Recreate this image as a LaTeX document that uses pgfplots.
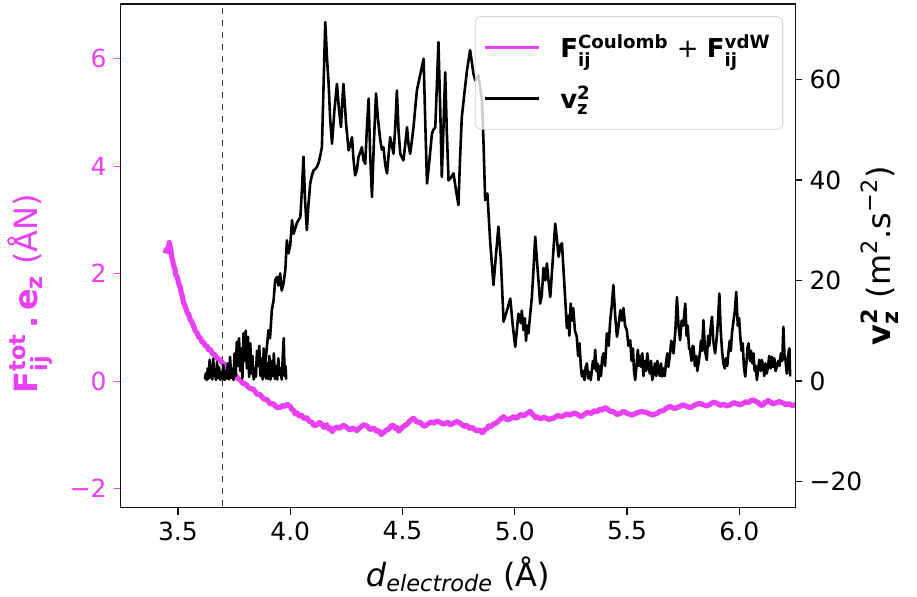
\documentclass[border=0pt]{standalone}
\usepackage{fontspec}
\setmainfont{DejaVu Sans}
\usepackage{amsmath}
\usepackage{pgfplots}
\pgfplotsset{compat=1.18}
\definecolor{cMag}{RGB}{232,64,242}
\definecolor{cInk}{RGB}{20,20,20}
\pgfplotsset{
  twinbase/.style={
    scale only axis, width=337.4pt, height=251.85pt,
    at={(0,0)}, anchor=south west,
    xmin=3.245, xmax=6.25,
    tick align=outside, major tick length=3.5pt,
    font=\fontsize{12.5}{15}\selectfont,
    tick label style={font=\fontsize{12.5}{15}\selectfont},
    axis line style={cInk, line width=0.6pt},
  },
}
\begin{document}
\begin{tikzpicture}
% left axis: force (magenta)
\begin{axis}[
  twinbase,
  axis lines=box,
  ymin=-2.354, ymax=7.02,
  xtick=\empty,
  ytick={-2,0,2,4,6}, yticklabels={−2,0,2,4,6},
  ytick pos=left,
  tick style={cMag, line width=0.6pt},
  y tick label style={cMag},
  ylabel={\textcolor{cMag}{\textbf{F}$^{\textbf{tot}}_{\textbf{ij}}$\,\textbf{.}\,\textbf{e}$_{\textbf{z}}$ (ÅN)}},
  every axis y label/.style={at={(axis description cs:-0.134,0.425)}, rotate=90, anchor=center,
    font=\fontsize{16}{19}\selectfont},
]
\addplot[cInk!85, dashed, line width=0.6pt, forget plot] coordinates {(3.7,-3) (3.7,8)};
\addplot[cMag, line width=2.6pt, line join=round] coordinates {
(3.443,2.38) (3.449,2.46) (3.455,2.41) (3.461,2.58) (3.466,2.50) (3.472,2.33) (3.480,2.16) (3.486,2.10)
(3.490,1.98) (3.497,1.94) (3.503,1.82) (3.509,1.76) (3.515,1.64) (3.520,1.58) (3.525,1.46) (3.532,1.40)
(3.540,1.29) (3.548,1.24) (3.555,1.14) (3.562,1.10) (3.570,1.02) (3.578,0.93) (3.585,0.90) (3.593,0.82)
(3.600,0.80) (3.607,0.73) (3.614,0.72) (3.622,0.66) (3.630,0.65) (3.637,0.58) (3.644,0.59) (3.654,0.51)
(3.665,0.49) (3.676,0.42) (3.688,0.40) (3.699,0.33) (3.710,0.31) (3.721,0.24) (3.733,0.22) (3.744,0.15)
(3.755,0.13) (3.766,0.05) (3.777,0.03) (3.789,-0.04) (3.800,-0.05) (3.818,-0.13) (3.837,-0.15) (3.851,-0.24)
(3.866,-0.25) (3.881,-0.33) (3.896,-0.34) (3.910,-0.42) (3.925,-0.42) (3.940,-0.49) (3.955,-0.49) (3.965,-0.45)
(3.975,-0.47) (3.988,-0.43) (4.000,-0.47) (4.008,-0.53) (4.015,-0.54) (4.022,-0.61) (4.030,-0.59) (4.040,-0.65)
(4.050,-0.63) (4.062,-0.70) (4.074,-0.68) (4.085,-0.75) (4.095,-0.76) (4.107,-0.83) (4.119,-0.81) (4.130,-0.77)
(4.140,-0.80) (4.150,-0.86) (4.163,-0.81) (4.172,-0.89) (4.180,-0.87) (4.187,-0.94) (4.193,-0.90) (4.207,-0.85)
(4.220,-0.88) (4.236,-0.82) (4.252,-0.86) (4.266,-0.91) (4.280,-0.87) (4.296,-0.92) (4.312,-0.86) (4.327,-0.81)
(4.341,-0.83) (4.356,-0.90) (4.371,-0.87) (4.383,-0.93) (4.395,-0.92) (4.405,-0.99) (4.415,-0.96) (4.428,-0.91)
(4.440,-0.89) (4.450,-0.83) (4.460,-0.82) (4.468,-0.88) (4.475,-0.86) (4.483,-0.93) (4.490,-0.90) (4.505,-0.84)
(4.520,-0.80) (4.535,-0.73) (4.549,-0.69) (4.565,-0.76) (4.580,-0.77) (4.595,-0.84) (4.609,-0.81) (4.625,-0.76)
(4.640,-0.78) (4.654,-0.74) (4.668,-0.77) (4.684,-0.80) (4.700,-0.76) (4.713,-0.81) (4.727,-0.78) (4.743,-0.75)
(4.760,-0.79) (4.773,-0.84) (4.787,-0.82) (4.798,-0.88) (4.810,-0.86) (4.828,-0.92) (4.846,-0.91) (4.855,-0.96)
(4.861,-0.94) (4.868,-0.90) (4.876,-0.88) (4.884,-0.83) (4.891,-0.85) (4.905,-0.80) (4.920,-0.77) (4.935,-0.71)
(4.950,-0.66) (4.965,-0.72) (4.980,-0.70) (4.995,-0.66) (5.009,-0.69) (5.025,-0.62) (5.040,-0.64) (5.055,-0.60)
(5.069,-0.56) (5.077,-0.61) (5.085,-0.64) (5.092,-0.68) (5.098,-0.66) (5.115,-0.70) (5.130,-0.67) (5.150,-0.71)
(5.172,-0.69) (5.190,-0.64) (5.210,-0.66) (5.230,-0.61) (5.247,-0.63) (5.264,-0.59) (5.280,-0.62) (5.293,-0.66)
(5.306,-0.63) (5.322,-0.58) (5.340,-0.60) (5.353,-0.55) (5.366,-0.57) (5.378,-0.52) (5.390,-0.54) (5.400,-0.49)
(5.410,-0.51) (5.425,-0.56) (5.440,-0.57) (5.455,-0.62) (5.469,-0.60) (5.485,-0.56) (5.500,-0.60) (5.522,-0.63)
(5.544,-0.59) (5.566,-0.56) (5.590,-0.59) (5.612,-0.63) (5.633,-0.60) (5.646,-0.56) (5.660,-0.55) (5.676,-0.50)
(5.692,-0.47) (5.710,-0.51) (5.730,-0.48) (5.748,-0.44) (5.766,-0.47) (5.783,-0.49) (5.800,-0.45) (5.820,-0.41)
(5.840,-0.44) (5.855,-0.46) (5.870,-0.43) (5.885,-0.39) (5.900,-0.41) (5.915,-0.45) (5.930,-0.43) (5.945,-0.46)
(5.959,-0.44) (5.975,-0.40) (5.990,-0.42) (6.004,-0.44) (6.018,-0.41) (6.030,-0.38) (6.040,-0.40) (6.052,-0.36)
(6.063,-0.35) (6.075,-0.38) (6.085,-0.40) (6.096,-0.45) (6.107,-0.44) (6.114,-0.39) (6.120,-0.40) (6.128,-0.36)
(6.137,-0.38) (6.148,-0.42) (6.160,-0.41) (6.178,-0.38) (6.196,-0.41) (6.208,-0.44) (6.220,-0.42) (6.235,-0.45)
(6.250,-0.44)};
\end{axis}
% right axis: v_z^2 (black)
\begin{axis}[
  twinbase,
  axis y line*=right, axis x line*=bottom,
  ymin=-25.2, ymax=75.0,
  xtick={3.5,4.0,4.5,5.0,5.5,6.0}, xticklabels={3.5,4.0,4.5,5.0,5.5,6.0},
  ytick={-20,0,20,40,60}, yticklabels={−20,0,20,40,60},
  tick style={cInk, line width=0.6pt},
  xlabel={\textit{d}$_{\textit{electrode}}$ (Å)},
  every axis x label/.style={at={(axis description cs:0.5,-0.132)}, anchor=center,
    font=\fontsize{16}{19}\selectfont},
  ylabel={\textbf{v}$^{\textbf{2}}_{\textbf{z}}$ (m\textsuperscript{2}.s\textsuperscript{−2})},
  every axis y label/.style={at={(axis description cs:1.125,0.50)}, rotate=90, anchor=center,
    font=\fontsize{16}{19}\selectfont},
  legend style={at={(axis description cs:0.9815,0.976)}, anchor=north east,
    draw=black!18, rounded corners=3pt, fill=white, fill opacity=0.8, text opacity=1,
    font=\fontsize{13}{15.5}\selectfont, inner xsep=4pt, inner ysep=7pt,
    row sep=9pt, column sep=8pt, legend cell align=left},
  legend image code/.code={\draw[#1] (0pt,0pt) -- (27pt,0pt);},
]
\addlegendimage{cMag, line width=1.5pt}
\addlegendentry{\textbf{F}$^{\textbf{Coulomb}}_{\textbf{ij}}$ + \textbf{F}$^{\textbf{vdW}}_{\textbf{ij}}$}
\addplot[black, line width=1.3pt, line join=round] coordinates {
(3.620,0.3) (3.624,1.5) (3.628,0.2) (3.633,2.5) (3.637,0.5) (3.641,4.2) (3.645,0.8) (3.649,3.0)
(3.653,0.3) (3.657,4.5) (3.661,1.0) (3.665,2.2) (3.669,0.2) (3.674,3.8) (3.678,0.6) (3.683,2.8)
(3.688,0.2) (3.692,1.8) (3.697,0.4) (3.702,3.2) (3.707,0.2) (3.712,2.0) (3.717,0.5) (3.722,3.5)
(3.727,0.3) (3.732,4.8) (3.737,0.6) (3.742,2.4) (3.747,0.2) (3.752,5.5) (3.757,1.0) (3.762,7.8)
(3.767,3.0) (3.772,8.5) (3.777,2.0) (3.782,6.5) (3.787,0.5) (3.792,9.5) (3.797,4.0) (3.802,10.0)
(3.807,2.5) (3.812,8.8) (3.817,0.8) (3.822,7.5) (3.827,1.5) (3.832,5.0) (3.837,0.3) (3.842,2.5)
(3.847,0.8) (3.852,6.0) (3.857,3.0) (3.862,7.0) (3.867,1.0) (3.872,4.5) (3.877,0.3) (3.882,6.5)
(3.887,2.0) (3.892,0.5) (3.897,3.5) (3.902,0.4) (3.907,5.0) (3.912,0.3) (3.917,4.0) (3.922,1.0)
(3.927,5.5) (3.932,0.4) (3.937,3.0) (3.942,0.3) (3.947,4.5) (3.952,1.2) (3.957,2.5) (3.962,0.3)
(3.967,5.0) (3.971,8.5) (3.975,1.0) (3.979,3.0) (3.982,0.3)};
\addlegendentry{\textbf{v}$^{\textbf{2}}_{\textbf{z}}$}
\addplot[black, line width=1.3pt, line join=round, forget plot] coordinates {
(3.889,3.5) (3.903,10.1) (3.910,8.5) (3.918,14.1) (3.926,16.1) (3.933,20.1) (3.941,20.7) (3.948,19.0)
(3.955,21.4) (3.962,18.0) (3.970,19.4) (3.978,22.0) (3.985,28.0) (3.992,25.4) (4.000,27.0) (4.008,32.0)
(4.015,29.3) (4.030,31.5) (4.045,32.6) (4.052,38.0) (4.059,44.6) (4.066,36.0) (4.074,30.0) (4.081,35.0)
(4.089,39.3) (4.097,41.0) (4.104,41.9) (4.112,42.2) (4.119,42.6) (4.127,43.5) (4.134,44.9) (4.141,46.5)
(4.156,71.4) (4.164,64.0) (4.171,59.1) (4.178,52.0) (4.186,47.2) (4.197,54.0) (4.208,59.1) (4.217,54.0)
(4.226,50.5) (4.231,55.0) (4.237,59.1) (4.249,51.0) (4.260,45.9) (4.268,47.0) (4.275,48.5) (4.282,44.0)
(4.289,40.9) (4.297,42.0) (4.304,44.6) (4.312,45.5) (4.319,46.5) (4.326,44.0) (4.334,43.2) (4.341,50.0)
(4.349,56.2) (4.356,45.0) (4.364,36.6) (4.373,48.0) (4.382,57.2) (4.391,52.0) (4.401,47.9) (4.408,46.0)
(4.415,46.5) (4.423,43.0) (4.431,41.3) (4.438,45.0) (4.445,48.5) (4.452,47.0) (4.460,45.2) (4.467,50.0)
(4.475,57.8) (4.482,50.0) (4.490,45.2) (4.497,44.5) (4.504,43.9) (4.512,47.0) (4.520,50.5) (4.527,47.0)
(4.534,45.2) (4.541,47.5) (4.549,50.5) (4.556,54.0) (4.564,57.8) (4.579,61.0) (4.594,64.1) (4.601,52.0)
(4.609,39.3) (4.620,44.0) (4.631,49.2) (4.638,50.0) (4.646,50.5) (4.660,67.4) (4.668,54.0) (4.675,40.6)
(4.682,50.0) (4.690,61.4) (4.697,50.0) (4.705,39.9) (4.716,40.5) (4.727,41.3) (4.738,38.0) (4.749,35.0)
(4.756,44.0) (4.764,52.5) (4.775,57.0) (4.787,61.8) (4.801,65.8) (4.816,61.1) (4.824,59.8) (4.838,60.8)
(4.854,55.8) (4.861,47.0) (4.868,36.0) (4.878,37.3) (4.890,28.0) (4.905,19.1) (4.916,25.0) (4.927,30.7)
(4.938,24.0) (4.950,11.8) (4.965,14.0) (4.980,16.4) (4.991,11.0) (5.002,6.8) (5.009,10.0) (5.016,13.4)
(5.027,11.5) (5.031,14.0) (5.039,10.1) (5.045,12.5) (5.050,8.0) (5.055,11.0) (5.061,9.5) (5.068,13.0)
(5.076,16.7) (5.083,22.0) (5.091,28.7) (5.102,22.0) (5.113,15.4) (5.120,17.0) (5.128,22.5) (5.136,20.0)
(5.143,23.4) (5.150,20.0) (5.158,16.7) (5.169,24.0) (5.180,31.3) (5.188,28.0) (5.195,24.7) (5.203,27.0)
(5.210,27.4) (5.221,19.0) (5.232,10.5) (5.238,13.0) (5.243,9.0) (5.249,15.4) (5.254,12.0) (5.260,14.5)
(5.268,10.0) (5.276,8.8) (5.282,5.0) (5.288,7.5) (5.294,3.0) (5.299,0.9) (5.305,2.0) (5.310,0.2)
(5.316,2.8) (5.321,3.5) (5.327,0.5) (5.332,1.8) (5.338,0.2) (5.343,2.0) (5.348,4.0) (5.353,2.5)
(5.358,6.2) (5.363,2.0) (5.368,3.5) (5.373,0.2) (5.378,3.0) (5.384,1.0) (5.389,4.5) (5.395,5.5)
(5.402,3.0) (5.410,9.5) (5.418,7.0) (5.425,12.1) (5.432,15.0) (5.439,19.1) (5.447,13.0) (5.455,8.8)
(5.462,11.0) (5.470,14.1) (5.477,12.0) (5.484,14.5) (5.491,11.0) (5.499,10.1) (5.506,7.0) (5.514,8.1)
(5.520,4.0) (5.526,6.5) (5.531,2.0) (5.536,0.2) (5.542,3.0) (5.548,6.2) (5.553,3.0) (5.558,5.0)
(5.563,2.8) (5.568,5.5) (5.573,1.0) (5.579,4.0) (5.585,2.0) (5.590,5.5) (5.595,3.5) (5.601,1.5)
(5.607,4.0) (5.612,0.2) (5.618,1.5) (5.624,3.5) (5.630,1.0) (5.635,4.0) (5.640,2.0) (5.646,1.0)
(5.651,3.5) (5.657,0.9) (5.662,2.5) (5.668,1.0) (5.673,3.5) (5.679,5.5) (5.684,2.8) (5.690,5.0)
(5.697,8.0) (5.707,5.5) (5.715,10.0) (5.722,16.7) (5.729,11.0) (5.736,8.1) (5.743,12.0) (5.750,11.0)
(5.759,15.4) (5.765,9.0) (5.770,11.0) (5.776,6.5) (5.781,6.2) (5.787,4.0) (5.792,7.0) (5.796,6.8)
(5.802,3.0) (5.808,5.0) (5.813,2.0) (5.818,3.5) (5.824,5.5) (5.829,8.0) (5.834,6.0) (5.840,12.1)
(5.847,6.0) (5.855,4.2) (5.861,9.0) (5.866,7.0) (5.872,10.5) (5.878,12.8) (5.884,8.0) (5.892,5.5)
(5.900,9.0) (5.905,12.0) (5.911,17.4) (5.917,10.0) (5.923,6.0) (5.929,3.5) (5.935,2.5) (5.940,4.5)
(5.946,3.0) (5.951,5.5) (5.957,8.0) (5.962,6.0) (5.967,9.5) (5.974,12.0) (5.980,14.0) (5.986,17.7)
(5.993,11.0) (5.999,12.5) (6.004,8.8) (6.010,6.0) (6.015,7.5) (6.020,3.0) (6.026,0.9) (6.032,4.0)
(6.036,6.5) (6.041,7.5) (6.047,4.0) (6.052,6.0) (6.058,3.5) (6.063,5.5) (6.068,2.0) (6.073,3.0)
(6.078,0.2) (6.084,2.5) (6.089,4.2) (6.095,2.0) (6.100,4.2) (6.106,3.0) (6.111,1.0) (6.116,3.5)
(6.122,1.5) (6.128,3.0) (6.133,5.0) (6.139,2.5) (6.145,4.8) (6.150,2.8) (6.156,4.5) (6.161,2.0)
(6.167,2.8) (6.173,4.0) (6.179,3.0) (6.185,5.5) (6.191,4.0) (6.196,10.8) (6.201,5.0) (6.206,4.0)
(6.211,1.5) (6.216,4.5) (6.220,6.0) (6.223,6.5) (6.226,0.9)};
\end{axis}
\pgfresetboundingbox
\path (-60.35pt,-44.65pt) rectangle (398.15pt,253.85pt);
\end{tikzpicture}
\end{document}
